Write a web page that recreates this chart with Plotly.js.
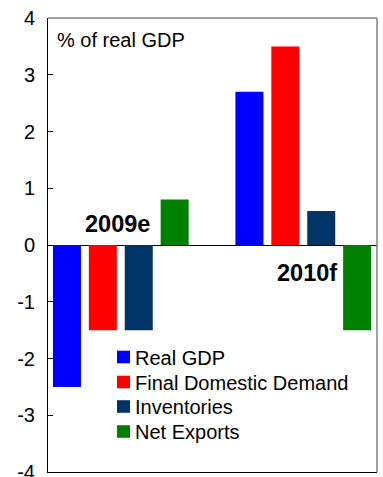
<!DOCTYPE html>
<html><head><meta charset="utf-8">
<script src="https://cdn.plot.ly/plotly-3.0.1.min.js"></script>
<style>html,body{margin:0;padding:0;background:#fff}</style>
</head><body>
<div id="chart" style="width:383px;height:477px"></div>
<script>
const periods = [0, 1];
const periodLabels = ["2009e", "2010f"];
const seriesNames = ["Real GDP", "Final Domestic Demand", "Inventories", "Net Exports"];
const realGDP = [-2.5, 2.7];
const finalDomesticDemand = [-1.5, 3.5];
const inventories = [-1.5, 0.6];
const netExports = [0.8, -1.5];
const tickValues = [-4, -3, -2, -1, 0, 1, 2, 3, 4];
const tickLabels = ["-4", "-3", "-2", "-1", "0", "1", "2", "3", "4"];
const colors = ["#0000ff", "#ff0000", "#003366", "#008000"];
const values = [realGDP, finalDomesticDemand, inventories, netExports];

const FONT = "Liberation Sans, Arial, sans-serif";
const W = 383, H = 477, ML = 48, MR = 6, MT = 18, MB = 5;
const PW = W - ML - MR, PH = H - MT - MB;
const px = x => (x - ML) / PW;
const py = y => (H - MB - y) / PH;

const traces = values.map((v, i) => ({
  type: "bar", x: periods, y: v, name: seriesNames[i],
  marker: {color: colors[i], line: {width: 0}}, hoverinfo: "none", showlegend: false
}));

const shapes = [
  {type: "line", xref: "paper", yref: "paper", x0: 0, x1: 1, y0: 1, y1: 1, line: {color: "#808080", width: 1.5}},
  {type: "line", xref: "paper", yref: "paper", x0: 1, x1: 1, y0: 0, y1: 1, line: {color: "#808080", width: 1.5}}
];
const annotations = [
  {xref: "paper", yref: "paper", x: px(55), y: py(40), xanchor: "left", yanchor: "middle",
   text: "% of real GDP", showarrow: false, font: {family: FONT, size: 20, color: "#000"}},
  {xref: "paper", yref: "paper", x: px(117.5), y: py(224), xanchor: "center", yanchor: "middle",
   text: "<b>" + periodLabels[0] + "</b>", showarrow: false, font: {family: FONT, size: 23.5, color: "#000"}},
  {xref: "paper", yref: "paper", x: px(306.5), y: py(272.5), xanchor: "center", yanchor: "middle",
   text: "<b>" + periodLabels[1] + "</b>", showarrow: false, font: {family: FONT, size: 23.5, color: "#000"}}
];
// legend (key)
const rowY = [357, 382, 406.5, 431.5];
seriesNames.forEach((n, i) => {
  shapes.push({type: "rect", xref: "paper", yref: "paper", x0: px(117), x1: px(130),
    y0: py(rowY[i] - 6.3), y1: py(rowY[i] + 6.3), fillcolor: colors[i], line: {width: 0}});
  annotations.push({xref: "paper", yref: "paper", x: px(133), y: py(rowY[i] + 0.5), xanchor: "left", yanchor: "middle",
    text: n, showarrow: false, font: {family: FONT, size: 20, color: "#000"}});
});

const layout = {
  width: W, height: H,
  margin: {l: ML, r: MR, t: MT, b: MB},
  paper_bgcolor: "#fff", plot_bgcolor: "#fff",
  font: {family: FONT, size: 20, color: "#000"},
  barmode: "group", bargap: 0.213, bargroupgap: 0.22,
  showlegend: false,
  xaxis: {range: [-0.399, 1.404], showticklabels: false, ticks: "", showgrid: false,
          zeroline: false, showline: true, linecolor: "#000", linewidth: 1, fixedrange: true},
  yaxis: {range: [-4, 4], tickmode: "array", tickvals: tickValues, ticktext: tickLabels,
          ticks: "inside", ticklen: 5, tickcolor: "#000",
          showgrid: false, zeroline: true, zerolinecolor: "#000", zerolinewidth: 1,
          showline: true, linecolor: "#000", linewidth: 1, ticklabelstandoff: 8,
          ticklabeloverflow: "allow",
          tickfont: {family: FONT, size: 20, color: "#000"}, fixedrange: true},
  shapes: shapes,
  annotations: annotations
};
Plotly.newPlot("chart", traces, layout, {displayModeBar: false, staticPlot: true});
</script>
</body></html>
